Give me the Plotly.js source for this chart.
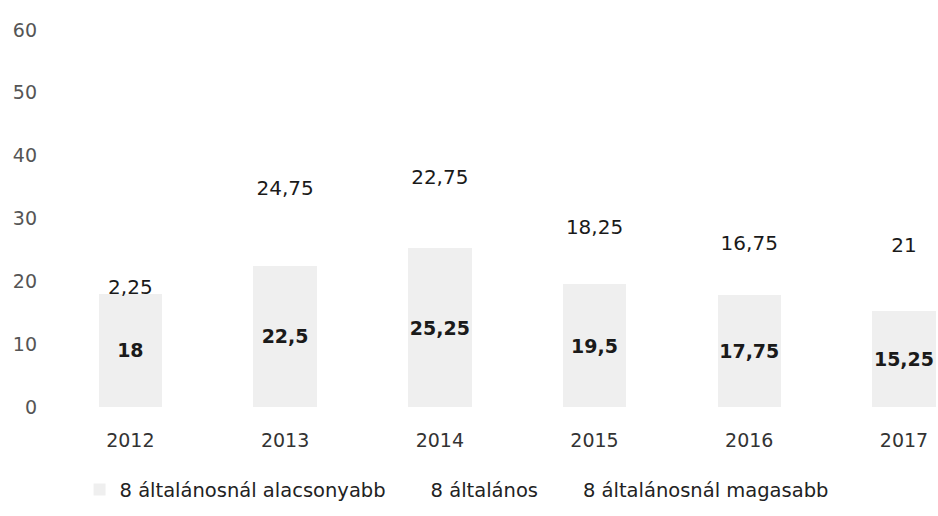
<!DOCTYPE html>
<html>
<head>
<meta charset="utf-8">
<script src="https://cdn.plot.ly/plotly-3.0.1.min.js"></script>
<style>html,body{margin:0;padding:0;background:#fff;}#chart{width:938px;height:516px;}</style>
</head>
<body>
<div id="chart"></div>
<script>
// Data
const years = ['2012', '2013', '2014', '2015', '2016', '2017'];
const belowEight = [18, 22.5, 25.25, 19.5, 17.75, 15.25];      // 8 általánosnál alacsonyabb
const eightGrade = [2.25, 24.75, 22.75, 18.25, 16.75, 21];      // 8 általános
const aboveEight = [null, null, null, null, null, null];        // 8 általánosnál magasabb (no values legible)
const seriesNames = ['8 általánosnál alacsonyabb', '8 általános', '8 általánosnál magasabb'];
const yTicks = [0, 10, 20, 30, 40, 50, 60];

const fmt = v => (v === null ? '' : String(v).replace('.', ','));
const FONT = 'DejaVu Sans, Verdana, sans-serif';

const traces = [
  {
    type: 'bar', name: seriesNames[0], x: years, y: belowEight,
    text: belowEight.map(fmt), textposition: 'inside', insidetextanchor: 'middle',
    textangle: 0, constraintext: 'none',
    textfont: {family: FONT, size: 19, color: '#1a1a1a', weight: 'bold'},
    marker: {color: '#efefef', line: {width: 0}},
    hoverinfo: 'skip'
  },
  {
    type: 'bar', name: seriesNames[1], x: years, y: eightGrade,
    text: eightGrade.map(fmt), textposition: 'inside', insidetextanchor: 'middle',
    textangle: 0, constraintext: 'none',
    textfont: {family: FONT, size: 20, color: '#1a1a1a'},
    marker: {color: '#ffffff', line: {width: 0}},
    hoverinfo: 'skip'
  },
  {
    type: 'bar', name: seriesNames[2], x: years, y: aboveEight,
    marker: {color: '#ffffff', line: {width: 0}},
    hoverinfo: 'skip'
  }
];

const layout = {
  width: 938, height: 516,
  margin: {l: 53, r: 0, t: 30, b: 109},
  barmode: 'stack',
  bargap: 0.59,
  paper_bgcolor: '#ffffff', plot_bgcolor: '#ffffff',
  showlegend: true,
  legend: {
    orientation: 'h', x: 0.03, xanchor: 'left', y: -0.22, yanchor: 'middle',
    font: {family: FONT, size: 19.5, color: '#222'},
    itemwidth: 30, traceorder: 'normal'
  },
  xaxis: {
    type: 'category', range: [-0.5, 5.22],
    showgrid: false, zeroline: false, showline: false, ticks: '',
    tickfont: {family: FONT, size: 19, color: '#333'},
    ticklabelstandoff: 20
  },
  yaxis: {
    range: [0, 60], tickvals: yTicks, ticktext: yTicks.map(String),
    showgrid: false, zeroline: false, showline: false, ticks: '',
    tickfont: {family: FONT, size: 19, color: '#555'},
    ticklabelstandoff: 15
  }
};

Plotly.newPlot('chart', traces, layout, {displayModeBar: false, staticPlot: true});
</script>
</body>
</html>
